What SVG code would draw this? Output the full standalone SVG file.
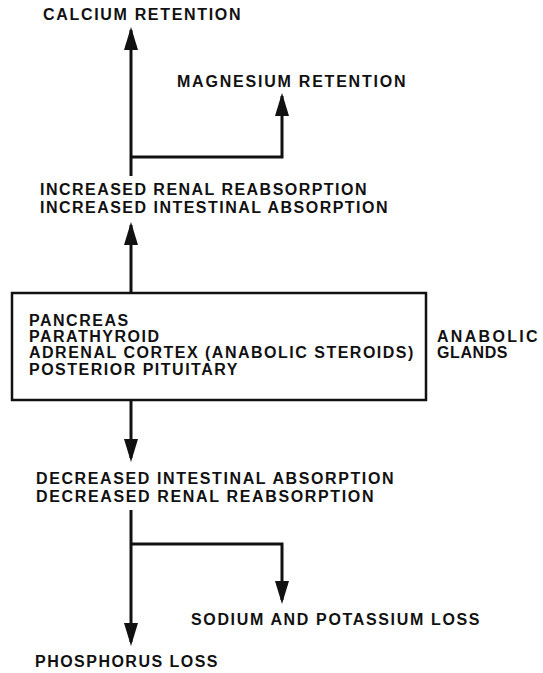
<svg xmlns="http://www.w3.org/2000/svg" width="543" height="673" viewBox="0 0 543 673">
<style>
text{font-family:"Liberation Sans",Arial,sans-serif;font-weight:bold;font-size:16px;fill:#111;letter-spacing:1.5px}
.ln{stroke:#111;stroke-width:3;fill:none}
.box{stroke:#111;stroke-width:2.5;fill:#fff}
.ah{fill:#111}
</style>
<g id="connectors">
<path class="ln" d="M131,176 V30"/>
<path class="ah" d="M131,27 L124,50 L138,50 Z"/>
<path class="ln" d="M131,157 H282 V96"/>
<path class="ah" d="M282,93 L275,116 L289,116 Z"/>
<path class="ln" d="M131,293 V225"/>
<path class="ah" d="M131,222 L124,245 L138,245 Z"/>
<path class="ln" d="M131,400 V458"/>
<path class="ah" d="M131,462 L124,439 L138,439 Z"/>
<path class="ln" d="M131,510 V642"/>
<path class="ah" d="M131,646 L124,623 L138,623 Z"/>
<path class="ln" d="M131,544 H282 V600"/>
<path class="ah" d="M282,604 L275,581 L289,581 Z"/>
</g>
<g id="calcium"><text x="43" y="20" textLength="199">CALCIUM RETENTION</text></g>
<g id="magnesium"><text x="177" y="87" textLength="230">MAGNESIUM RETENTION</text></g>
<g id="increased"><text x="40" y="195" textLength="328">INCREASED RENAL REABSORPTION</text><text x="40" y="213" textLength="349">INCREASED INTESTINAL ABSORPTION</text></g>
<g id="glands">
<rect class="box" x="12" y="293" width="414" height="107"/>
<text x="29" y="326">PANCREAS</text>
<text x="29" y="342">PARATHYROID</text>
<text x="29" y="358">ADRENAL CORTEX (ANABOLIC STEROIDS)</text>
<text x="29" y="375">POSTERIOR PITUITARY</text>
</g>
<g id="anabolic"><text x="437" y="342" textLength="102">ANABOLIC</text><text x="437" y="358" textLength="72">GLANDS</text></g>
<g id="decreased"><text x="36" y="484" textLength="359">DECREASED INTESTINAL ABSORPTION</text><text x="36" y="502" textLength="339">DECREASED RENAL REABSORPTION</text></g>
<g id="sodium"><text x="191" y="625" textLength="290">SODIUM AND POTASSIUM LOSS</text></g>
<g id="phosphorus"><text x="35" y="667" textLength="184">PHOSPHORUS LOSS</text></g>
</svg>
